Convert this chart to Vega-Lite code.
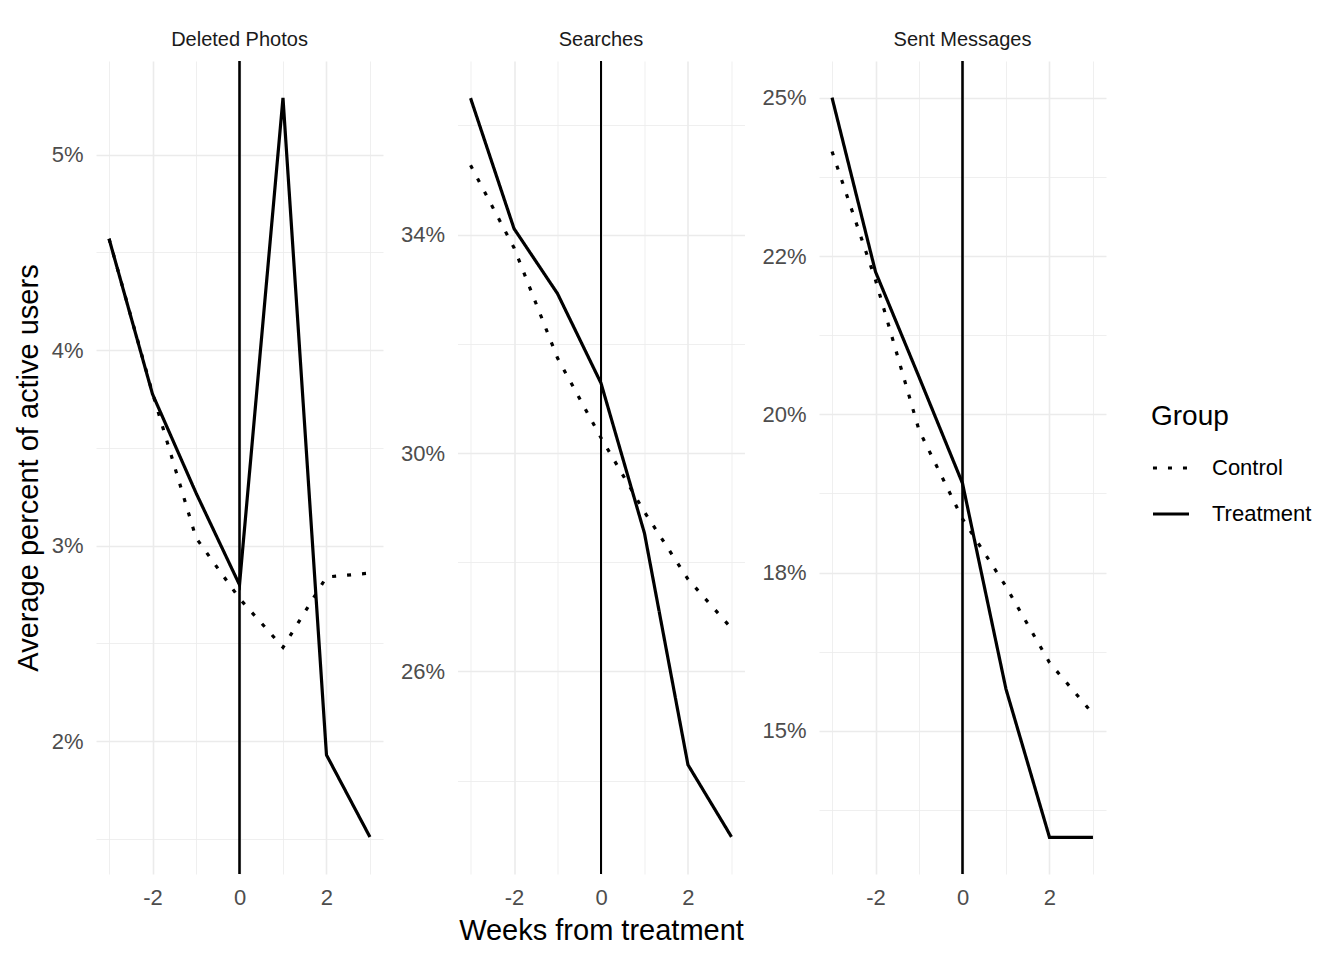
{
  "$schema": "https://vega.github.io/schema/vega-lite/v6.json",
  "background": "white",
  "padding": {"left": 14, "top": 30, "right": 10, "bottom": 10},
  "spacing": 16.5,
  "data": {
    "values": [
      {"panel": "Deleted Photos", "group": "Treatment", "week": -3, "value": 4.57},
      {"panel": "Deleted Photos", "group": "Treatment", "week": -2, "value": 3.775},
      {"panel": "Deleted Photos", "group": "Treatment", "week": -1, "value": 3.27},
      {"panel": "Deleted Photos", "group": "Treatment", "week": 0, "value": 2.8},
      {"panel": "Deleted Photos", "group": "Treatment", "week": 1, "value": 5.29},
      {"panel": "Deleted Photos", "group": "Treatment", "week": 2, "value": 1.93},
      {"panel": "Deleted Photos", "group": "Treatment", "week": 3, "value": 1.51},
      {"panel": "Deleted Photos", "group": "Control", "week": -3, "value": 4.57},
      {"panel": "Deleted Photos", "group": "Control", "week": -2, "value": 3.78},
      {"panel": "Deleted Photos", "group": "Control", "week": -1, "value": 3.04},
      {"panel": "Deleted Photos", "group": "Control", "week": 0, "value": 2.73},
      {"panel": "Deleted Photos", "group": "Control", "week": 1, "value": 2.48},
      {"panel": "Deleted Photos", "group": "Control", "week": 2, "value": 2.84},
      {"panel": "Deleted Photos", "group": "Control", "week": 3, "value": 2.86},
      {"panel": "Searches", "group": "Treatment", "week": -3, "value": 36.5},
      {"panel": "Searches", "group": "Treatment", "week": -2, "value": 34.11},
      {"panel": "Searches", "group": "Treatment", "week": -1, "value": 32.92},
      {"panel": "Searches", "group": "Treatment", "week": 0, "value": 31.28},
      {"panel": "Searches", "group": "Treatment", "week": 1, "value": 28.53},
      {"panel": "Searches", "group": "Treatment", "week": 2, "value": 24.29},
      {"panel": "Searches", "group": "Treatment", "week": 3, "value": 22.97},
      {"panel": "Searches", "group": "Control", "week": -3, "value": 35.27},
      {"panel": "Searches", "group": "Control", "week": -2, "value": 33.76},
      {"panel": "Searches", "group": "Control", "week": -1, "value": 31.74},
      {"panel": "Searches", "group": "Control", "week": 0, "value": 30.28},
      {"panel": "Searches", "group": "Control", "week": 1, "value": 28.92},
      {"panel": "Searches", "group": "Control", "week": 2, "value": 27.69},
      {"panel": "Searches", "group": "Control", "week": 3, "value": 26.79},
      {"panel": "Sent Messages", "group": "Treatment", "week": -3, "value": 25.0},
      {"panel": "Sent Messages", "group": "Treatment", "week": -2, "value": 22.25},
      {"panel": "Sent Messages", "group": "Treatment", "week": -1, "value": 20.59},
      {"panel": "Sent Messages", "group": "Treatment", "week": 0, "value": 18.91},
      {"panel": "Sent Messages", "group": "Treatment", "week": 1, "value": 15.66},
      {"panel": "Sent Messages", "group": "Treatment", "week": 2, "value": 13.32},
      {"panel": "Sent Messages", "group": "Treatment", "week": 3, "value": 13.32},
      {"panel": "Sent Messages", "group": "Control", "week": -3, "value": 24.15},
      {"panel": "Sent Messages", "group": "Control", "week": -2, "value": 22.12},
      {"panel": "Sent Messages", "group": "Control", "week": -1, "value": 19.75},
      {"panel": "Sent Messages", "group": "Control", "week": 0, "value": 18.35},
      {"panel": "Sent Messages", "group": "Control", "week": 1, "value": 17.28},
      {"panel": "Sent Messages", "group": "Control", "week": 2, "value": 16.08},
      {"panel": "Sent Messages", "group": "Control", "week": 3, "value": 15.27}
    ]
  },
  "hconcat": [
    {
      "title": "Deleted Photos",
      "width": 287,
      "height": 813,
      "transform": [{"filter": "datum.panel == 'Deleted Photos'"}],
      "layer": [
        {
          "mark": {"type": "line", "color": "black", "strokeWidth": 3.2, "strokeCap": "butt"},
          "encoding": {
            "x": {
              "field": "week", "type": "quantitative", "title": null,
              "scale": {"domain": [-3.3, 3.3], "nice": false, "zero": false},
              "axis": {
                "values": [-3, -2, -1, 0, 1, 2, 3],
                "labelExpr": "datum.value % 2 == 0 ? '' + datum.value : ''",
                "gridWidth": {"condition": {"test": "datum.value % 2 == 0", "value": 1.6}, "value": 0.8}
              }
            },
            "y": {
              "field": "value", "type": "quantitative",
              "title": "Average percent of active users",
              "scale": {"domain": [1.321, 5.479], "nice": false, "zero": false},
              "axis": {
                "values": [1.5, 2, 2.5, 3, 3.5, 4, 4.5, 5],
                "labelExpr": "datum.value % 1 == 0 ? datum.value + '%' : ''",
                "gridWidth": {"condition": {"test": "datum.value % 1 == 0", "value": 1.6}, "value": 0.8}
              }
            },
            "strokeDash": {
              "field": "group", "type": "nominal", "title": "Group",
              "scale": {"domain": ["Control", "Treatment"], "range": [[4, 11], [1, 0]]}
            }
          }
        },
        {
          "mark": {"type": "rule", "color": "black", "strokeWidth": 1.2},
          "encoding": {"x": {"datum": 0, "type": "quantitative", "title": null}}
        }
      ]
    },
    {
      "title": "Searches",
      "width": 287,
      "height": 813,
      "transform": [{"filter": "datum.panel == 'Searches'"}],
      "layer": [
        {
          "mark": {"type": "line", "color": "black", "strokeWidth": 3.2, "strokeCap": "butt"},
          "encoding": {
            "x": {
              "field": "week", "type": "quantitative", "title": "Weeks from treatment",
              "scale": {"domain": [-3.3, 3.3], "nice": false, "zero": false},
              "axis": {
                "values": [-3, -2, -1, 0, 1, 2, 3],
                "labelExpr": "datum.value % 2 == 0 ? '' + datum.value : ''",
                "gridWidth": {"condition": {"test": "datum.value % 2 == 0", "value": 1.6}, "value": 0.8}
              }
            },
            "y": {
              "field": "value", "type": "quantitative", "title": null,
              "scale": {"domain": [22.29, 37.18], "nice": false, "zero": false},
              "axis": {
                "values": [24, 26, 28, 30, 32, 34, 36],
                "labelExpr": "(datum.value - 26) % 4 == 0 ? datum.value + '%' : ''",
                "gridWidth": {"condition": {"test": "(datum.value - 26) % 4 == 0", "value": 1.6}, "value": 0.8}
              }
            },
            "strokeDash": {
              "field": "group", "type": "nominal", "title": "Group",
              "scale": {"domain": ["Control", "Treatment"], "range": [[4, 11], [1, 0]]}
            }
          }
        },
        {
          "mark": {"type": "rule", "color": "black", "strokeWidth": 1.2},
          "encoding": {"x": {"datum": 0, "type": "quantitative", "title": "Weeks from treatment"}}
        }
      ]
    },
    {
      "title": "Sent Messages",
      "width": 287,
      "height": 813,
      "transform": [{"filter": "datum.panel == 'Sent Messages'"}],
      "layer": [
        {
          "mark": {"type": "line", "color": "black", "strokeWidth": 3.2, "strokeCap": "butt"},
          "encoding": {
            "x": {
              "field": "week", "type": "quantitative", "title": null,
              "scale": {"domain": [-3.3, 3.3], "nice": false, "zero": false},
              "axis": {
                "values": [-3, -2, -1, 0, 1, 2, 3],
                "labelExpr": "datum.value % 2 == 0 ? '' + datum.value : ''",
                "gridWidth": {"condition": {"test": "datum.value % 2 == 0", "value": 1.6}, "value": 0.8}
              }
            },
            "y": {
              "field": "value", "type": "quantitative", "title": null,
              "scale": {"domain": [12.74, 25.58], "nice": false, "zero": false},
              "axis": {
                "values": [13.75, 15, 16.25, 17.5, 18.75, 20, 21.25, 22.5, 23.75, 25],
                "labelExpr": "datum.value == 17.5 ? '18%' : datum.value == 22.5 ? '22%' : ((datum.value - 15) % 2.5 == 0 ? datum.value + '%' : '')",
                "gridWidth": {"condition": {"test": "(datum.value - 15) % 2.5 == 0", "value": 1.6}, "value": 0.8}
              }
            },
            "strokeDash": {
              "field": "group", "type": "nominal", "title": "Group",
              "scale": {"domain": ["Control", "Treatment"], "range": [[4, 11], [1, 0]]}
            }
          }
        },
        {
          "mark": {"type": "rule", "color": "black", "strokeWidth": 1.2},
          "encoding": {"x": {"datum": 0, "type": "quantitative", "title": null}}
        }
      ]
    }
  ],
  "resolve": {"scale": {"strokeDash": "shared"}, "legend": {"strokeDash": "shared"}},
  "config": {
    "font": "Liberation Sans",
    "view": {"stroke": null},
    "axis": {
      "domain": false,
      "ticks": false,
      "labelFontSize": 22,
      "labelColor": "#4D4D4D",
      "labelPadding": 13,
      "labelOverlap": false,
      "labelFlush": false,
      "titleFontSize": 29,
      "titleFontWeight": "normal",
      "titleColor": "black",
      "titlePadding": 8,
      "gridColor": "#EBEBEB"
    },
    "title": {
      "fontSize": 20,
      "fontWeight": "normal",
      "color": "#1A1A1A",
      "frame": "group",
      "anchor": "middle",
      "offset": 10
    },
    "legend": {
      "orient": "none",
      "legendX": 1055,
      "legendY": 342,
      "titleFontSize": 28,
      "titleFontWeight": "normal",
      "titleColor": "black",
      "titlePadding": 17,
      "labelFontSize": 22,
      "labelColor": "black",
      "labelOffset": 21,
      "symbolType": "stroke",
      "symbolSize": 1300,
      "symbolStrokeWidth": 3.2,
      "symbolStrokeColor": "black",
      "rowPadding": 15
    }
  }
}
